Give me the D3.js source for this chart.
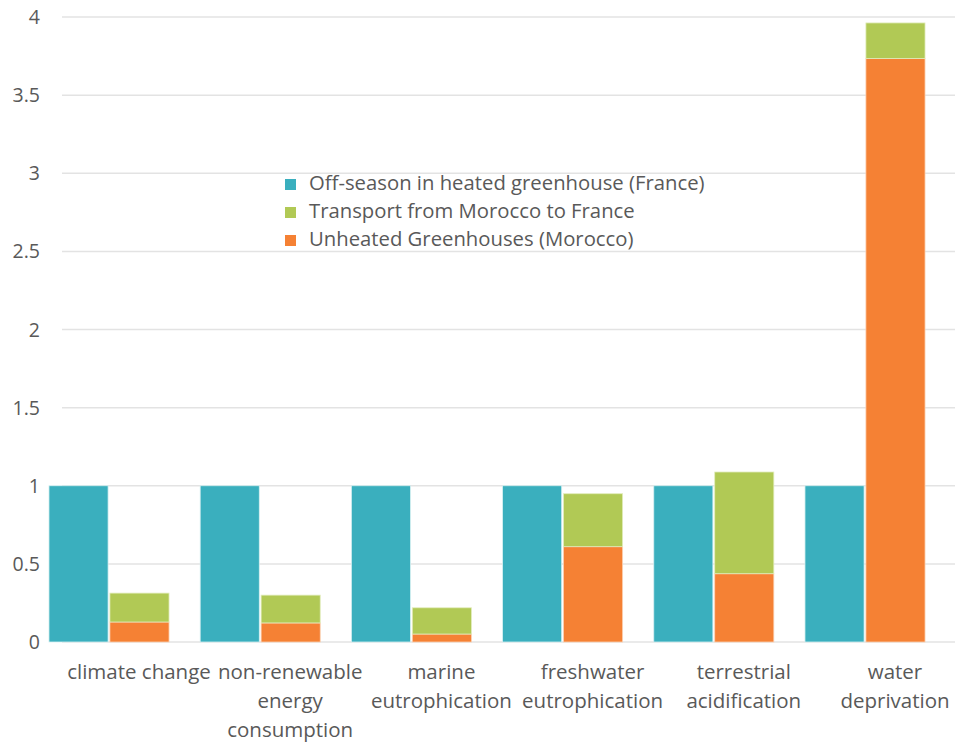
<!DOCTYPE html>
<html><head><meta charset="utf-8">
<script src="https://cdn.jsdelivr.net/npm/d3@7"></script>
<style>body{margin:0;background:#fff}svg{display:block}text{font-family:"Open Sans",sans-serif;fill:#595959}</style>
</head><body><svg id="c" width="960" height="742"></svg>
<script>
const categories = [["climate change"],["non-renewable","energy","consumption"],["marine","eutrophication"],["freshwater","eutrophication"],["terrestrial","acidification"],["water","deprivation"]];
const seriesNames = ["Off-season in heated greenhouse (France)","Transport from Morocco to France","Unheated Greenhouses (Morocco)"];
const heatedFrance = [1,1,1,1,1,1];
const transport = [0.185,0.178,0.168,0.339,0.651,0.228];
const unheatedMorocco = [0.128,0.122,0.051,0.610,0.437,3.734];
const yTicks = [0,0.5,1,1.5,2,2.5,3,3.5,4];
const colors = ["#3AAFBE","#B1C955","#F58134"];

const svg = d3.select("#c");
const keys = categories.map((c,i)=>"c"+i);
const y = d3.scaleLinear().domain([0,4]).range([642,17]);
const x0 = d3.scaleBand().domain(keys).range([33.4,940.6]).paddingInner(0.206).paddingOuter(0.103);
const x1 = d3.scaleBand().domain(["fr","ma"]).range([0,x0.bandwidth()]).paddingInner(0.03);
const xl = x0.copy().range([63.4,970.6]);

// gridlines
svg.append("g").selectAll("line").data(yTicks).join("line")
  .attr("x1",62).attr("x2",955).attr("y1",d=>y(d)).attr("y2",d=>y(d))
  .attr("stroke","#e3e3e3").attr("stroke-width",1.5);

// y tick labels
svg.append("g").selectAll("text").data(yTicks).join("text")
  .attr("x",40).attr("y",d=>y(d)).attr("dy","0.36em").attr("text-anchor","end")
  .attr("font-size",19.5).text(d=>d);

const g = svg.append("g");
g.selectAll("rect.fr").data(heatedFrance).join("rect").attr("class","fr")
  .attr("x",(d,i)=>x0(keys[i])+x1("fr")).attr("width",x1.bandwidth())
  .attr("y",d=>y(d)).attr("height",d=>y(0)-y(d))
  .attr("fill",colors[0]).attr("stroke","#d8f0f2").attr("stroke-width",0.8);
const stackData = keys.map((k,i)=>({k, tr: transport[i], un: unheatedMorocco[i]}));
const stack = d3.stack().keys(["un","tr"])(stackData);
stack.forEach((layer,li)=>{
  g.append("g").selectAll("rect").data(layer).join("rect")
    .attr("x",d=>x0(d.data.k)+x1("ma")).attr("width",x1.bandwidth())
    .attr("y",d=>y(d[1])).attr("height",d=>y(d[0])-y(d[1]))
    .attr("fill",li===0?colors[2]:colors[1])
    .attr("stroke",li===0?"#fbd2b5":"#e2ecbd").attr("stroke-width",0.8);
});

const xg = svg.append("g");
categories.forEach((lines,i)=>{
  const cx = xl(keys[i])+xl.bandwidth()/2;
  const t = xg.append("text").attr("x",cx).attr("y",679)
    .attr("text-anchor","middle").attr("font-size",20.5);
  lines.forEach((ln,j)=>t.append("tspan").attr("x",cx).attr("dy",j?29:0).text(ln));
});

const lg = svg.append("g");
seriesNames.forEach((n,i)=>{
  const yy = 183 + i*28;
  lg.append("rect").attr("x",285).attr("y",yy-4).attr("width",11).attr("height",11).attr("fill",colors[i]);
  lg.append("text").attr("x",309).attr("y",yy).attr("dy","0.36em").attr("font-size",20.3).text(n);
});
</script></body></html>
